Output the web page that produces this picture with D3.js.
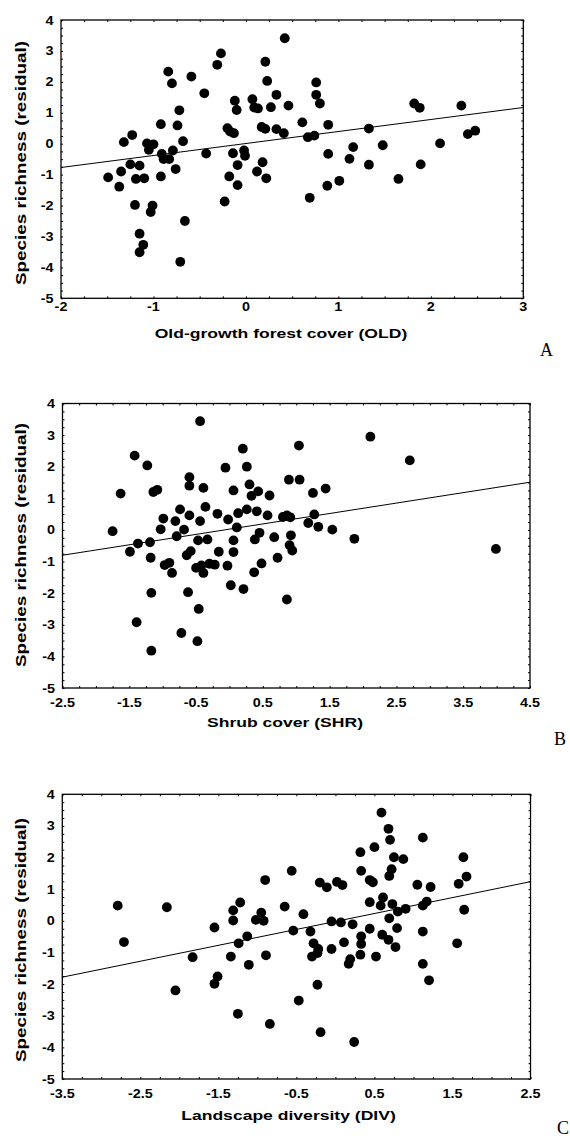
<!DOCTYPE html>
<html><head><meta charset="utf-8">
<script src="https://cdn.jsdelivr.net/npm/d3@7/dist/d3.min.js"></script>
<style>body{margin:0;background:#fff}svg{display:block}</style>
</head><body><svg id="c" width="570" height="1138"></svg>
<script>
// ---------- DATA ----------
const yTickLabels = ["4","3","2","1","0","-1","-2","-3","-4","-5"];
const yTitle = "Species richness (residual)";

const titleOLD = "Old-growth forest cover (OLD)";
const xTicksOLD = ["-2","-1","0","1","2","3"];
const fitOLD = [0.006, 0.388]; // intercept, slope
const oldX = [-1.49,-1.37,-1.35,-1.32,-1.23,-1.25,-1.15,-1.19,-1.10,-1.20,
  -1.15,-1.11,-1.15,-1.07,-1.00,-1.05,-1.01,-1.03,-0.92,-0.91,
  -0.89,-0.83,-0.79,-0.92,-0.76,-0.84,-0.80,-0.72,-0.74,-0.68,
  -0.66,-0.71,-0.59,-0.45,-0.43,-0.31,-0.27,-0.20,-0.17,-0.13,
  -0.23,-0.18,-0.12,-0.10,-0.14,-0.09,-0.09,-0.02,-0.01,0.07,
  0.09,0.13,0.12,0.18,0.22,0.17,0.21,0.21,0.23,0.27,
  0.33,0.33,0.42,0.41,0.46,0.61,0.67,0.74,0.76,0.76,
  0.80,0.89,0.89,0.88,0.69,1.01,1.12,1.16,1.33,1.33,
  1.48,1.65,1.82,1.88,1.89,2.10,2.33,2.40,2.48];
const oldY = [-1.09,-1.39,-0.90,0.05,0.28,-0.67,-0.71,-1.14,-1.12,-1.98,
  -2.91,-3.27,-3.51,0.01,-0.02,-0.20,-2.00,-2.21,0.63,-0.33,
  -0.50,-0.50,-0.22,-1.06,-0.82,2.33,1.95,1.08,0.59,0.08,
  -2.50,-3.82,2.17,1.63,-0.32,2.55,2.92,0.50,0.39,0.34,
  -1.87,-1.06,1.39,1.09,-0.31,-0.69,-1.34,-0.22,-0.39,1.44,
  1.17,1.14,-0.90,-0.60,-1.12,0.54,0.48,2.65,2.03,1.18,
  1.58,0.47,3.41,0.34,1.23,0.69,0.21,0.26,1.98,1.58,
  1.30,0.61,-0.33,-1.36,-1.75,-1.20,-0.49,-0.11,0.49,-0.68,
  -0.05,-1.14,1.30,1.16,-0.67,0.01,1.23,0.31,0.42];

const titleSHR = "Shrub cover (SHR)";
const xTicksSHR = ["-2.5","-1.5","-0.5","0.5","1.5","2.5","3.5","4.5"];
const fitSHR = [0.025, 0.33];
const shrX = [-1.75,-1.63,-1.49,-1.37,-1.42,-1.39,-1.23,-1.19,-1.18,-1.17,
  -1.17,-1.14,-1.08,-1.03,-0.99,-0.97,-0.90,-0.86,-0.81,-0.79,
  -0.74,-0.68,-0.72,-0.64,-0.58,-0.60,-0.60,-0.60,-0.62,-0.46,
  -0.48,-0.44,-0.39,-0.44,-0.47,-0.33,-0.36,-0.50,-0.42,-0.39,
  -0.30,-0.22,-0.18,-0.16,-0.06,-0.03,-0.02,0.06,0.06,0.06,
  0.02,0.11,0.13,0.20,0.21,0.26,0.26,0.30,0.33,0.41,
  0.43,0.38,0.45,0.37,0.48,0.57,0.60,0.67,0.72,0.80,
  0.86,0.86,0.89,0.91,0.92,0.90,0.94,1.05,1.04,1.25,
  1.44,1.27,1.18,1.33,1.54,1.87,2.11,2.70,3.99];
const shrY = [-0.04,1.15,-0.69,-0.43,2.35,-2.92,2.04,-0.39,-0.88,-1.99,
  -3.82,1.20,1.27,0.02,0.36,-1.11,-1.04,-1.36,0.28,-0.20,
  0.65,0.01,-3.26,-0.80,-0.67,0.46,1.67,1.40,-1.97,-2.50,
  -3.52,3.44,1.33,0.28,-0.33,-0.30,0.73,-1.20,-1.12,-1.36,
  -1.07,-1.10,0.51,-0.69,1.97,-1.13,0.33,1.25,-0.33,-0.70,
  -1.75,0.08,0.53,2.57,-1.87,0.65,2.00,1.44,1.08,0.59,
  1.22,-0.30,-0.09,-1.34,-1.06,0.46,1.09,-0.23,-0.88,0.41,
  -2.20,0.46,1.59,0.40,-0.17,-0.48,-0.65,1.59,2.67,1.17,
  1.31,0.49,0.22,0.10,0.01,-0.28,2.95,2.20,-0.60];

const titleDIV = "Landscape diversity (DIV)";
const xTicksDIV = ["-3.5","-2.5","-1.5","-0.5","0.5","1.5","2.5"];
const fitDIV = [-0.02, 0.503];
const divX = [-2.79,-2.71,-2.16,-2.05,-1.83,-1.55,-1.55,-1.51,-1.31,-1.31,
  -1.22,-1.24,-1.13,-1.34,-1.11,-1.25,-0.95,-1.02,-0.92,-0.90,
  -0.89,-0.84,-0.65,-0.56,-0.54,-0.41,-0.47,-0.32,-0.28,-0.30,
  -0.22,-0.23,-0.23,-0.19,-0.20,-0.11,-0.05,-0.05,0.07,0.02,
  0.09,0.11,0.22,0.19,0.17,0.24,0.32,0.33,0.33,0.33,
  0.32,0.44,0.44,0.48,0.44,0.50,0.52,0.59,0.58,0.61,
  0.60,0.68,0.70,0.69,0.72,0.73,0.75,0.87,0.80,0.69,
  0.79,0.68,0.77,0.90,1.05,1.12,1.12,1.17,1.12,1.12,
  1.20,1.22,1.56,1.58,1.68,1.64,1.65];
const divY = [0.48,-0.67,0.43,-2.20,-1.15,-0.21,-1.99,-1.76,0.33,0.01,
  0.58,-0.71,-0.49,-1.13,-1.39,-2.94,0.26,0.03,0.00,1.29,
  -1.09,-3.26,0.45,1.58,-0.31,0.21,-2.52,-0.34,-0.71,-1.13,
  -0.89,-1.02,-2.02,-3.52,1.21,1.06,-0.89,-0.02,-0.05,1.23,
  1.13,-0.68,-0.11,-1.21,-1.36,-3.83,2.17,1.58,-0.49,-0.73,
  -1.07,-0.25,1.29,1.22,0.59,2.33,-1.13,3.42,0.48,0.74,
  -0.44,2.91,2.56,1.42,1.63,0.53,2.01,1.95,0.29,0.08,
  -0.23,-0.60,-0.83,0.38,1.14,2.63,0.48,0.61,-0.34,-1.36,
  -1.88,1.07,-0.71,1.17,1.40,2.01,0.35];

const panelLetters = ["A","B","C"];

// ---------- LAYOUT ----------
const sans = "'Liberation Sans', Arial, sans-serif";
const serif = "'Liberation Serif', 'Times New Roman', serif";
const panels = [
  {xs: oldX, ys: oldY, fit: fitOLD, xTicks: xTicksOLD, title: titleOLD, letter: panelLetters[0],
   l: 61, r: 523.3, t: 20, b: 298.3, xlabOff: 12.5, titleX: 281, titleY: 338, letterX: 540, letterY: 356, yTitleY: 163},
  {xs: shrX, ys: shrY, fit: fitSHR, xTicks: xTicksSHR, title: titleSHR, letter: panelLetters[1],
   l: 62.5, r: 530, t: 403.5, b: 688, xlabOff: 19, titleX: 285, titleY: 727, letterX: 554, letterY: 745, yTitleY: 545},
  {xs: divX, ys: divY, fit: fitDIV, xTicks: xTicksDIV, title: titleDIV, letter: panelLetters[2],
   l: 62.3, r: 530.5, t: 794.3, b: 1079, xlabOff: 19, titleX: 288.5, titleY: 1120, letterX: 557, letterY: 1134, yTitleY: 940}
];

const svg = d3.select("#c");
svg.append("rect").attr("width", 570).attr("height", 1138).attr("fill", "#fff");

function stretch(sel, f) {
  sel.each(function () {
    const L = this.getComputedTextLength();
    this.setAttribute("textLength", L * f);
    this.setAttribute("lengthAdjust", "spacingAndGlyphs");
  });
}

panels.forEach(p => {
  const xVals = p.xTicks.map(Number);
  const yVals = yTickLabels.map(Number);
  const x = d3.scaleLinear().domain([xVals[0], xVals[xVals.length - 1]]).range([p.l, p.r]);
  const y = d3.scaleLinear().domain([d3.min(yVals), d3.max(yVals)]).range([p.b, p.t]);
  const g = svg.append("g");

  const minorX = d3.range(x.domain()[0], x.domain()[1] + 1e-9, 0.25);
  const minorY = d3.range(y.domain()[0], y.domain()[1] + 1e-9, 0.25);

  // inward minor ticks on all four sides
  const axes = [
    [d3.axisBottom(x).tickValues(minorX), `translate(0,${p.b})`],
    [d3.axisTop(x).tickValues(minorX), `translate(0,${p.t})`],
    [d3.axisLeft(y).tickValues(minorY), `translate(${p.l},0)`],
    [d3.axisRight(y).tickValues(minorY), `translate(${p.r},0)`]
  ];
  axes.forEach(([ax, tr]) => {
    const a = g.append("g").attr("transform", tr)
      .call(ax.tickSizeInner(-2).tickSizeOuter(0).tickFormat(""));
    a.select(".domain").remove();
    a.selectAll("line").attr("stroke", "#000").attr("stroke-width", 1);
  });

  // frame
  g.append("rect").attr("x", p.l).attr("y", p.t).attr("width", p.r - p.l).attr("height", p.b - p.t)
    .attr("fill", "none").attr("stroke", "#000").attr("stroke-width", 1.3);

  // regression line
  const [a0, b1] = p.fit;
  const [x0, x1] = x.domain();
  g.append("line")
    .attr("x1", x(x0)).attr("y1", y(a0 + b1 * x0))
    .attr("x2", x(x1)).attr("y2", y(a0 + b1 * x1))
    .attr("stroke", "#000").attr("stroke-width", 1);

  // points
  g.append("g").selectAll("circle").data(p.xs.map((v, i) => [v, p.ys[i]])).join("circle")
    .attr("cx", d => x(d[0])).attr("cy", d => y(d[1])).attr("r", 4.9).attr("fill", "#000");

  // tick labels
  const xl = g.append("g").selectAll("text").data(p.xTicks).join("text")
    .attr("x", d => x(+d)).attr("y", p.b + p.xlabOff)
    .attr("text-anchor", "middle").attr("font-family", sans).attr("font-weight", "bold")
    .attr("font-size", 12.5).attr("fill", "#000").text(d => d);
  stretch(xl, 1.15);
  const yl = g.append("g").selectAll("text").data(yTickLabels).join("text")
    .attr("x", p.l - 7.5).attr("y", d => y(+d)).attr("dy", "0.36em")
    .attr("text-anchor", "end").attr("font-family", sans).attr("font-weight", "bold")
    .attr("font-size", 12.5).attr("fill", "#000").text(d => d);
  stretch(yl, 1.15);

  // axis titles
  const xt = g.append("text").attr("x", p.titleX).attr("y", p.titleY)
    .attr("text-anchor", "middle").attr("font-family", sans).attr("font-weight", "bold")
    .attr("font-size", 13.5).attr("fill", "#000").text(p.title);
  stretch(xt, 1.3);
  const yt = g.append("text").attr("transform", `translate(25.5,${p.yTitleY}) rotate(-90)`)
    .attr("text-anchor", "middle").attr("font-family", sans).attr("font-weight", "bold")
    .attr("font-size", 14.5).attr("fill", "#000").text(yTitle);
  stretch(yt, 1.3);

  // panel letter
  g.append("text").attr("x", p.letterX).attr("y", p.letterY)
    .attr("font-family", serif).attr("font-size", 18).attr("fill", "#000").text(p.letter);
});
</script>
</body></html>
